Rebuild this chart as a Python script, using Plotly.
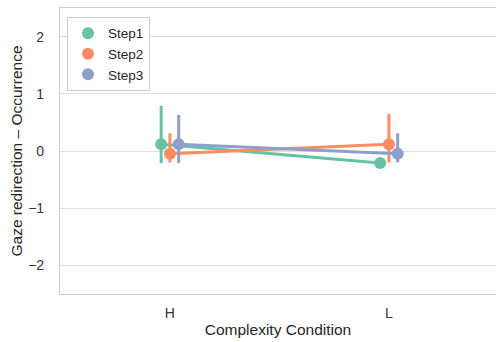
import plotly.graph_objects as go

categories = ["H", "L"]
series = ["Step1", "Step2", "Step3"]
colors = ["#66c2a5", "#fc8d62", "#8da0cb"]
means = {
    "Step1": [0.12, -0.21],
    "Step2": [-0.05, 0.12],
    "Step3": [0.12, -0.05],
}
ci_low = {
    "Step1": [-0.21, -0.21],
    "Step2": [-0.20, -0.20],
    "Step3": [-0.21, -0.20],
}
ci_high = {
    "Step1": [0.79, -0.21],
    "Step2": [0.31, 0.65],
    "Step3": [0.63, 0.31],
}
offsets = [-0.04, 0.0, 0.04]

fig = go.Figure()
for s, c, off in zip(series, colors, offsets):
    xs = [i + off for i in range(len(categories))]
    m = means[s]
    fig.add_trace(go.Scatter(
        x=xs, y=m, mode="lines+markers", showlegend=False,
        line=dict(color=c, width=3),
        marker=dict(color=c, size=12),
        error_y=dict(type="data", symmetric=False,
                     array=[h - v for h, v in zip(ci_high[s], m)],
                     arrayminus=[v - l for l, v in zip(ci_low[s], m)],
                     color=c, thickness=3, width=0),
    ))
for s, c in zip(series, colors):
    fig.add_trace(go.Scatter(x=[None], y=[None], mode="markers", name=s,
                             marker=dict(color=c, size=12)))

font = "Arial, Liberation Sans, sans-serif"
fig.update_layout(
    width=496, height=342,
    margin=dict(l=60, r=0, t=8, b=48),
    paper_bgcolor="white", plot_bgcolor="white",
    font=dict(family=font, size=14, color="#333333"),
    legend=dict(x=0.016, y=0.969, xanchor="left", yanchor="top",
                bordercolor="#cccccc", borderwidth=1, bgcolor="white",
                font=dict(size=13.5, color="#262626"), itemwidth=30,
                tracegroupgap=0),
    xaxis=dict(range=[-0.502, 1.489], tickvals=[0, 1], ticktext=categories,
               showgrid=False, zeroline=False, showline=True, mirror=True,
               linecolor="#cccccc", linewidth=1.2, ticks="",
               ticklabelstandoff=6, tickfont=dict(size=14),
               title=dict(text="Complexity Condition", font=dict(size=15.5, color="#262626"), standoff=4)),
    yaxis=dict(range=[-2.5, 2.5], tickvals=[-2, -1, 0, 1, 2],
               ticktext=["\u22122", "\u22121", "0", "1", "2"],
               showgrid=True, gridcolor="#dddddd", gridwidth=1.2,
               zeroline=False, showline=True, linecolor="#cccccc", linewidth=1.2,
               ticks="", ticklabelstandoff=12, tickfont=dict(size=14),
               title=dict(text="Gaze redirection \u2013 Occurrence", font=dict(size=15.5, color="#262626"), standoff=1)),
)
fig.write_html("out.html")
